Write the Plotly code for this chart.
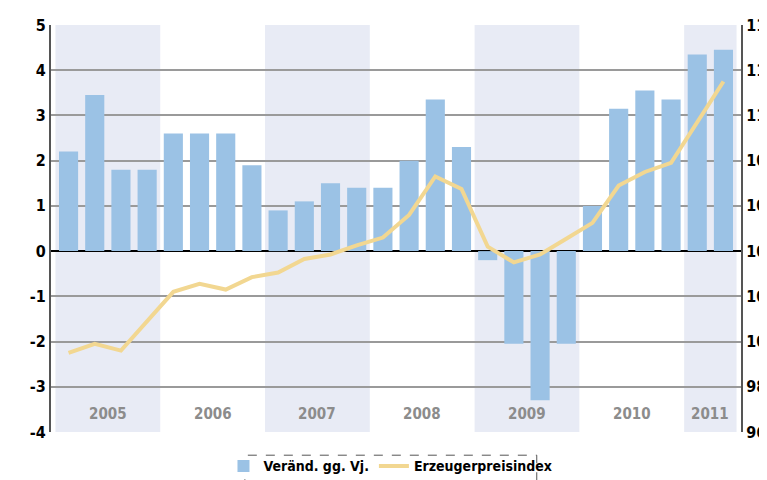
import plotly.graph_objects as go

quarters = ["2005Q1","2005Q2","2005Q3","2005Q4","2006Q1","2006Q2","2006Q3","2006Q4",
            "2007Q1","2007Q2","2007Q3","2007Q4","2008Q1","2008Q2","2008Q3","2008Q4",
            "2009Q1","2009Q2","2009Q3","2009Q4","2010Q1","2010Q2","2010Q3","2010Q4",
            "2011Q1","2011Q2"]
change_yoy = [2.2, 3.45, 1.8, 1.8, 2.6, 2.6, 2.6, 1.9,
              0.9, 1.1, 1.5, 1.4, 1.4, 2.0, 3.35, 2.3,
              -0.2, -2.05, -3.3, -2.05, 1.0, 3.15, 3.55, 3.35,
              4.35, 4.45]
ppi = [99.5, 99.9, 99.6, 100.9, 102.2, 102.55, 102.3, 102.85,
       103.05, 103.65, 103.85, 104.25, 104.6, 105.6, 107.3, 106.75,
       104.2, 103.5, 103.85, 104.55, 105.25, 106.9, 107.5, 107.9,
       109.7, 111.5]
years = ["2005", "2006", "2007", "2008", "2009", "2010", "2011"]
year_start_idx = [0, 4, 8, 12, 16, 20, 24]
year_end_idx = [3, 7, 11, 15, 19, 23, 25]
shaded_years = ["2005", "2007", "2009", "2011"]
left_ticks = [-4, -3, -2, -1, 0, 1, 2, 3, 4, 5]
right_ticks = [96, 98, 100, 102, 104, 106, 108, 110, 112, 114]

FONT = "DejaVu Sans Condensed, Liberation Sans Narrow, Arial Narrow, sans-serif"
XMIN, XMAX = -0.67, 25.67

x = list(range(len(quarters)))
fig = go.Figure()
fig.add_trace(go.Bar(x=x, y=change_yoy, name="<b>Veränd. gg. Vj.</b>",
                     marker=dict(color="#9BC2E5", line=dict(width=0)), yaxis="y"))
fig.add_trace(go.Scatter(x=x, y=ppi, name="<b>Erzeugerpreisindex</b>", mode="lines",
                         line=dict(color="#F2D791", width=4), yaxis="y2"))

shapes = []
annotations = []
for yr, s, e in zip(years, year_start_idx, year_end_idx):
    x0 = max(s - 0.5, XMIN)
    x1 = min(e + 0.5, XMAX)
    if yr in shaded_years:
        shapes.append(dict(type="rect", xref="x", yref="paper", x0=x0, x1=x1, y0=0, y1=1,
                           fillcolor="#E8EBF5", line=dict(width=0), layer="below"))
    annotations.append(dict(x=(x0 + x1) / 2, y=-3.6, xref="x", yref="y", text="<b>%s</b>" % yr,
                            showarrow=False, font=dict(family=FONT, size=15, color="#8C8C8C")))

# dashed legend frame
shapes.append(dict(type="rect", xref="paper", yref="paper", x0=0.281, x1=0.704,
                   y0=-0.2, y1=-0.057, line=dict(color="#555555", width=1, dash="dash"),
                   fillcolor="rgba(0,0,0,0)"))

fig.update_layout(
    width=759, height=472,
    margin=dict(l=43, r=26, t=17, b=48, autoexpand=False),
    paper_bgcolor="white", plot_bgcolor="rgba(0,0,0,0)",
    bargap=0.27,
    showlegend=True,
    legend=dict(orientation="h", x=0.492, xanchor="center", y=-0.045, yanchor="top",
                font=dict(family=FONT, size=14, color="black"), bgcolor="rgba(0,0,0,0)",
                itemwidth=30, tracegroupgap=0),
    xaxis=dict(range=[XMIN, XMAX], showticklabels=False, showgrid=False, zeroline=False,
               showline=False, ticks="", automargin=False),
    yaxis=dict(range=[-4, 5], tickvals=left_ticks, ticktext=["<b>%d</b>" % v for v in left_ticks],
               showgrid=True, gridcolor="#9A9A9A", gridwidth=1.5, zeroline=True,
               zerolinecolor="black", zerolinewidth=1.5, showline=True, linecolor="#555555",
               linewidth=2, ticks="", automargin=False,
               tickfont=dict(family=FONT, size=16, color="black")),
    yaxis2=dict(range=[96, 114], tickvals=right_ticks, ticktext=["<b>%d</b>" % v for v in right_ticks],
                overlaying="y", side="right", showgrid=False, zeroline=False, showline=True,
                linecolor="#555555", linewidth=2, ticks="", automargin=False,
                tickfont=dict(family=FONT, size=16, color="black")),
    shapes=shapes, annotations=annotations,
)

fig.write_html("out.html")
